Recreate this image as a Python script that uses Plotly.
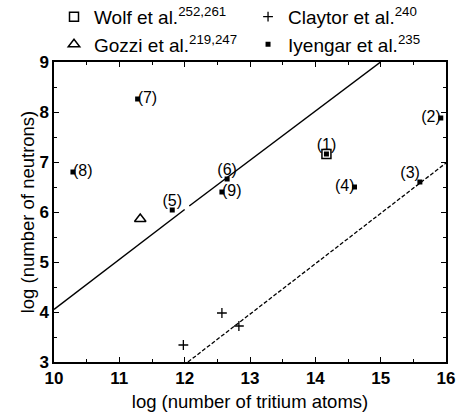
import plotly.graph_objects as go

# Data
wolf_x = [14.17]
wolf_y = [7.16]
claytor_x = [11.98, 12.57, 12.83]
claytor_y = [3.34, 3.98, 3.72]
gozzi_x = [11.32]
gozzi_y = [5.86]
iyengar_x = [14.17, 15.92, 15.6, 14.6, 11.81, 12.65, 11.28, 10.29, 12.57]
iyengar_y = [7.16, 7.88, 6.6, 6.5, 6.04, 6.66, 8.26, 6.8, 6.4]
iyengar_labels = ["(1)", "(2)", "(3)", "(4)", "(5)", "(6)", "(7)", "(8)", "(9)"]
label_pos = ["top center", "middle left", "top left", "middle left", "top center",
             "top center", "middle right", "middle right", "middle right"]
solid_x = [10.0, 12.0, None, 12.07, 15.0]
solid_y = [4.05, 6.05, None, 6.12, 9.0]
dashed_x = [12.05, 16.0]
dashed_y = [3.0, 6.98]

FONT = "Liberation Sans"
fig = go.Figure()

fig.add_trace(go.Scatter(x=solid_x, y=solid_y, mode="lines", showlegend=False,
                         line=dict(color="black", width=1.5), hoverinfo="skip"))
fig.add_trace(go.Scatter(x=dashed_x, y=dashed_y, mode="lines", showlegend=False,
                         line=dict(color="black", width=1.3, dash="4px,2px"), hoverinfo="skip"))

fig.add_trace(go.Scatter(x=wolf_x, y=wolf_y, mode="markers", legend="legend",
                         name="Wolf et al.<sup>252,261</sup>",
                         marker=dict(symbol="square-open", size=9, color="black",
                                     line=dict(width=1.5))))
fig.add_trace(go.Scatter(x=gozzi_x, y=gozzi_y, mode="markers", legend="legend",
                         name="Gozzi et al.<sup>219,247</sup>",
                         marker=dict(symbol="triangle-up-open", size=10, color="black",
                                     line=dict(width=1.5))))
fig.add_trace(go.Scatter(x=claytor_x, y=claytor_y, mode="markers", legend="legend2",
                         name="Claytor et al.<sup>240</sup>",
                         marker=dict(symbol="cross-thin-open", size=7, color="black",
                                     line=dict(width=1.3, color="black"))))
fig.add_trace(go.Scatter(x=iyengar_x, y=iyengar_y, mode="markers", legend="legend2",
                         name="Iyengar et al.<sup>235</sup>",
                         marker=dict(symbol="square", size=5, color="black")))
fig.add_trace(go.Scatter(x=iyengar_x, y=iyengar_y, mode="text", text=iyengar_labels,
                         textposition=label_pos, showlegend=False, hoverinfo="skip",
                         textfont=dict(family=FONT, size=16, color="black")))

axis_common = dict(
    showline=True, linecolor="black", linewidth=1.5, mirror="ticks",
    ticks="inside", ticklen=5, tickcolor="black", tickwidth=1,
    showgrid=False, zeroline=False, dtick=1,
    tickfont=dict(family=FONT, size=17, color="black", weight="bold"),
    minor=dict(ticks="inside", ticklen=3, dtick=0.5, tickcolor="black", showgrid=False),
)

fig.update_xaxes(range=[10, 16], title=dict(text="log (number of tritium atoms)",
                 font=dict(family=FONT, size=18.5, color="black"), standoff=8), **axis_common)
fig.update_yaxes(range=[3, 9], title=dict(text="log (number of neutrons)",
                 font=dict(family=FONT, size=18.5, color="black"), standoff=0), **axis_common)

legend_common = dict(orientation="v", yanchor="top", xanchor="left",
                     font=dict(family=FONT, size=19, color="black"),
                     itemsizing="trace", bgcolor="rgba(0,0,0,0)", tracegroupgap=0)

fig.update_layout(
    width=457, height=416,
    margin=dict(l=54, r=11, t=62, b=54, autoexpand=False),
    plot_bgcolor="white", paper_bgcolor="white",
    font=dict(family=FONT, color="black"),
    legend=dict(x=-0.0, y=1.214, **legend_common),
    legend2=dict(x=0.495, y=1.214, **legend_common),
)

fig.write_html("out.html", config={"displayModeBar": False},
               post_script="document.body.style.margin='0';")
